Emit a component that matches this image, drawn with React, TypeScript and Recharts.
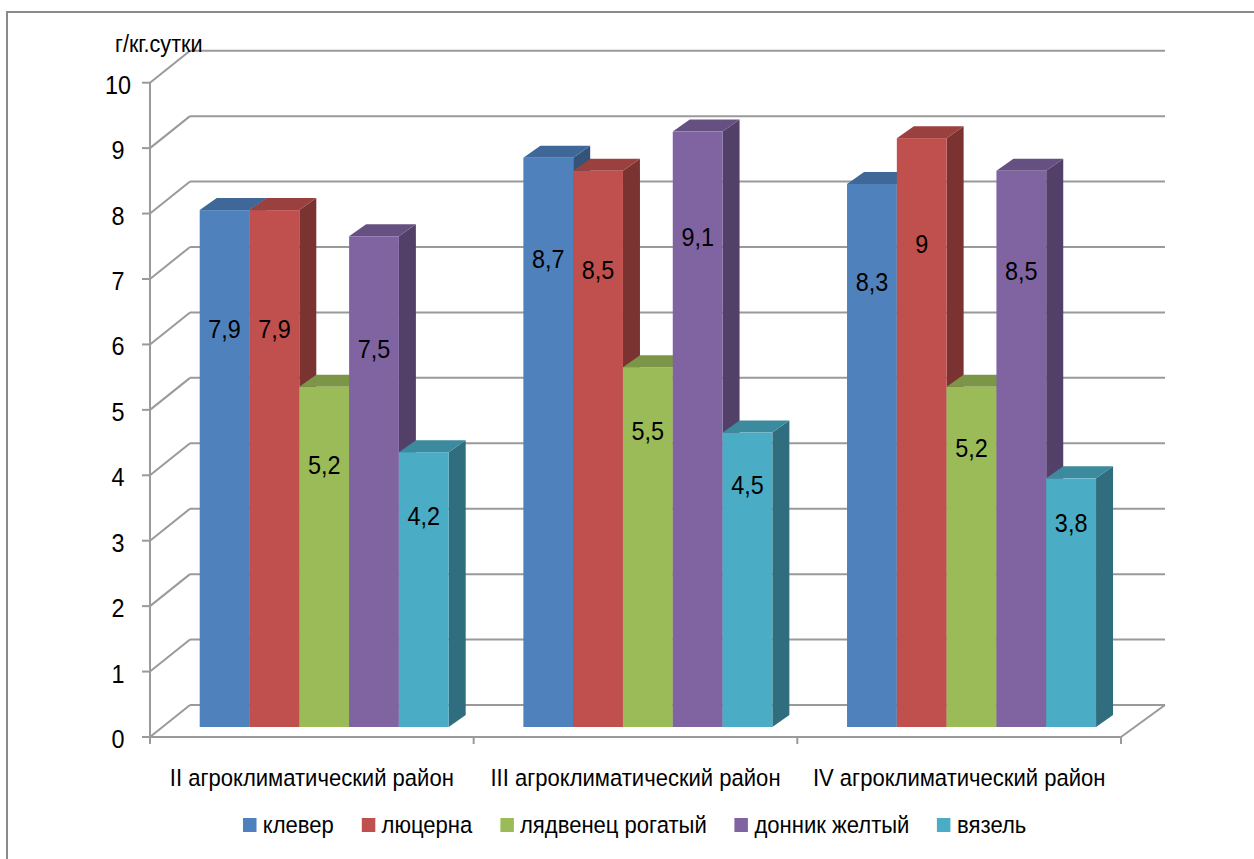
import React from 'react';
import { BarChart, Bar, XAxis, YAxis, CartesianGrid, LabelList, Legend } from 'recharts';

// Daily values, g per kg per day, by agroclimatic region
const categories = [
  'II агроклиматический район',
  'III агроклиматический район',
  'IV агроклиматический район',
];
const seriesNames = ['клевер', 'люцерна', 'лядвенец рогатый', 'донник желтый', 'вязель'];
const klever = [7.9, 8.7, 8.3];
const lyucerna = [7.9, 8.5, 9];
const lyadvenets = [5.2, 5.5, 5.2];
const donnik = [7.5, 9.1, 8.5];
const vyazel = [4.2, 4.5, 3.8];
const yTicks = [0, 1, 2, 3, 4, 5, 6, 7, 8, 9, 10];
const unitLabel = 'г/кг.сутки';

const seriesValues = [klever, lyucerna, lyadvenets, donnik, vyazel];
const seriesColors = ['#4F81BD', '#C0504D', '#9BBB59', '#8064A2', '#4BACC6'];

const data = categories.map((category, i) => {
  const row: Record<string, string | number> = { category };
  seriesValues.forEach((vals, j) => {
    row['s' + j] = vals[i];
  });
  return row;
});

// Layout of the front plane and the 3D projection
const W = 1254;
const H = 859;
const PLOT_LEFT = 150;
const PLOT_TOP = 82.7;
const PLOT_RIGHT = 1121;
const PLOT_BOTTOM = 737;
const WALL_DX = 40;
const WALL_DX_RIGHT = 44;
const WALL_DY = 32;
const BAR_SHIFT_X = 12.7;
const BAR_SHIFT_Y = 10;
const BAR_DEPTH_X = 17;
const BAR_DEPTH_Y = 12;
const LABEL_FRACTION = [0.23, 0.177, 0.18];

const FONT = '"Liberation Sans", Arial, sans-serif';
const SX = 0.9;
const LINE = '#9a9a9a';

function shade(hex: string, k: number): string {
  const n = parseInt(hex.slice(1), 16);
  const r = Math.round(((n >> 16) & 255) * k);
  const g = Math.round(((n >> 8) & 255) * k);
  const b = Math.round((n & 255) * k);
  return `rgb(${r},${g},${b})`;
}

const fmt = (v: number) => String(v).replace('.', ',');

const Box3D = (props: any) => {
  const { x, y, width, height, fill } = props;
  if (x == null || y == null || !width || height == null) return null;
  const fx = x + BAR_SHIFT_X;
  const fy = y - BAR_SHIFT_Y;
  const dx = BAR_DEPTH_X;
  const dy = BAR_DEPTH_Y;
  const w = width;
  const h = height;
  return (
    <g>
      <polygon
        points={`${fx + w},${fy} ${fx + w + dx},${fy - dy} ${fx + w + dx},${fy + h - dy} ${fx + w},${fy + h}`}
        fill={shade(fill, 0.64)}
      />
      <polygon
        points={`${fx},${fy} ${fx + dx},${fy - dy} ${fx + w + dx},${fy - dy} ${fx + w},${fy}`}
        fill={shade(fill, 0.8)}
      />
      <rect x={fx} y={fy} width={w} height={h} fill={fill} />
    </g>
  );
};

const ValueLabel = (props: any) => {
  const { x, y, width, height, value, index } = props;
  if (x == null || y == null) return null;
  const frac = LABEL_FRACTION[index ?? 0] ?? 0.2;
  const cx = x + BAR_SHIFT_X + width / 2;
  const cy = y - BAR_SHIFT_Y + height * frac;
  return (
    <text
      transform={`translate(${cx},${cy + 9.3}) scale(${SX},1)`}
      textAnchor="middle"
      fontFamily={FONT}
      fontSize={26}
      fill="#000"
    >
      {fmt(value)}
    </text>
  );
};

const WallLine = (props: any) => {
  const { x1, y1, x2 } = props;
  if (x1 == null || y1 == null) return null;
  const bx = x1 + WALL_DX;
  const by = y1 - WALL_DY;
  const isFloor = Math.abs(y1 - PLOT_BOTTOM) < 1;
  return (
    <g>
      <line x1={x1} y1={y1} x2={bx} y2={by} stroke={LINE} strokeWidth={2} />
      <line x1={bx} y1={by} x2={x2 + WALL_DX_RIGHT} y2={by} stroke={LINE} strokeWidth={2} />
      {isFloor && (
        <line x1={x2} y1={y1} x2={x2 + WALL_DX_RIGHT} y2={by} stroke={LINE} strokeWidth={2} />
      )}
    </g>
  );
};

const ValueTick = (props: any) => {
  const { y, payload } = props;
  return (
    <text
      transform={`translate(118,${y + 11}) scale(${SX},1)`}
      textAnchor="middle"
      fontFamily={FONT}
      fontSize={26}
      fill="#000"
    >
      {payload.value}
    </text>
  );
};

const CategoryTick = (props: any) => {
  const { x, payload, index } = props;
  const half = (PLOT_RIGHT - PLOT_LEFT) / categories.length / 2;
  return (
    <g>
      <line x1={x - half} y1={PLOT_BOTTOM} x2={x - half} y2={PLOT_BOTTOM + 7} stroke={LINE} strokeWidth={2} />
      {index === categories.length - 1 && (
        <line x1={x + half} y1={PLOT_BOTTOM} x2={x + half} y2={PLOT_BOTTOM + 7} stroke={LINE} strokeWidth={2} />
      )}
      <text
        transform={`translate(${x},${PLOT_BOTTOM + 49}) scale(${SX},1)`}
        textAnchor="middle"
        fontFamily={FONT}
        fontSize={24.5}
        fill="#000"
      >
        {payload.value}
      </text>
    </g>
  );
};

const UnitTitle = (props: any) => {
  const vb = props.viewBox || { x: 0, y: PLOT_TOP, width: PLOT_LEFT };
  return (
    <text
      transform={`translate(${vb.x + vb.width - 35},${vb.y - 31}) scale(${SX},1)`}
      textAnchor="start"
      fontFamily={FONT}
      fontSize={24}
      fill="#000"
    >
      {unitLabel}
    </text>
  );
};

// Legend keeps the series order of the data arrays
const LegendRow = () => (
  <div style={{ position: 'relative', width: W, height: 30 }}>
    <div
      style={{
        position: 'absolute',
        left: 243,
        top: 0,
        height: 30,
        display: 'flex',
        alignItems: 'center',
        whiteSpace: 'nowrap',
        transform: `scaleX(${SX})`,
        transformOrigin: '0 50%',
        fontFamily: FONT,
        fontSize: 24.5,
        color: '#000',
      }}
    >
      {seriesNames.map((name, i) => (
        <div key={name} style={{ display: 'flex', alignItems: 'center', marginRight: 31 }}>
          <span
            style={{ display: 'inline-block', width: 15, height: 13.5, background: seriesColors[i], marginRight: 7 }}
          />
          <span style={{ lineHeight: '30px' }}>{name}</span>
        </div>
      ))}
    </div>
  </div>
);

export default function App() {
  return (
    <div
      style={{
        position: 'absolute',
        left: 0,
        top: 0,
        width: W,
        height: H,
        overflow: 'hidden',
        background: '#fff',
      }}
    >
      <div
        style={{
          position: 'absolute',
          left: 6,
          top: 11,
          width: W + 40,
          height: H + 40,
          border: '2px solid #8a8a8a',
        }}
      />
      <BarChart
        width={W}
        height={H}
        data={data}
        margin={{ top: PLOT_TOP, right: W - PLOT_RIGHT, bottom: H - PLOT_BOTTOM - 60, left: 0 }}
        barGap={0}
      >
        <CartesianGrid vertical={false} horizontal={WallLine} />
        <XAxis
          dataKey="category"
          height={30}
          axisLine={{ stroke: LINE, strokeWidth: 2 }}
          tickLine={false}
          tick={CategoryTick}
          interval={0}
        />
        <YAxis
          width={PLOT_LEFT}
          domain={[0, 10]}
          ticks={yTicks}
          interval={0}
          axisLine={{ stroke: LINE, strokeWidth: 2 }}
          tickLine={{ stroke: LINE, strokeWidth: 2 }}
          tickSize={8}
          tick={ValueTick}
          label={{ content: UnitTitle }}
        />
        <Legend
          verticalAlign="bottom"
          height={30}
          content={LegendRow}
          wrapperStyle={{ top: 810, left: 0, width: W, height: 30, bottom: 'auto' }}
        />
        {seriesNames.map((name, j) => (
          <Bar
            key={name}
            dataKey={'s' + j}
            name={name}
            fill={seriesColors[j]}
            barSize={49.8}
            shape={Box3D}
            isAnimationActive={false}
          >
            <LabelList dataKey={'s' + j} content={ValueLabel} />
          </Bar>
        ))}
      </BarChart>
    </div>
  );
}
